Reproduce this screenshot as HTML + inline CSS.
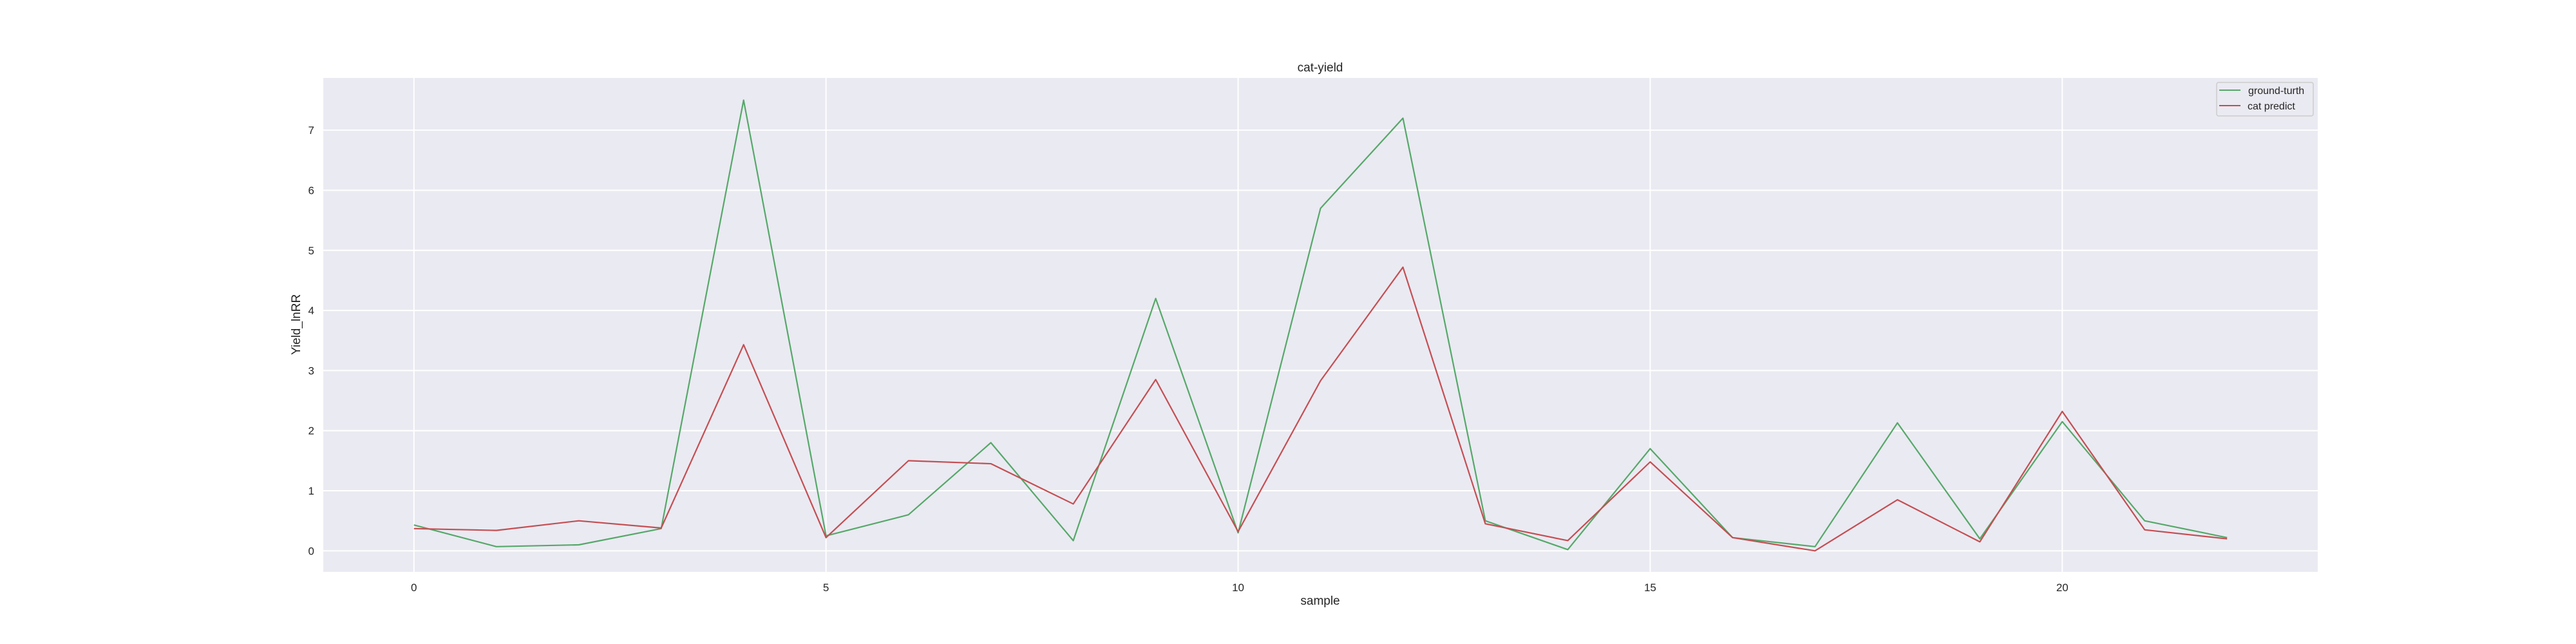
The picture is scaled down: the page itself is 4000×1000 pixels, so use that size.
<!DOCTYPE html>
<html><head><meta charset="utf-8"><style>
body{margin:0;background:#fff;}
svg{display:block;font-family:"Liberation Sans","DejaVu Sans",sans-serif;}
</style></head><body>
<svg id="chart" width="4000" height="1000" viewBox="0 0 4000 1000" xmlns="http://www.w3.org/2000/svg">
<rect x="0" y="0" width="4000" height="1000" fill="#fff"/>
<rect x="502" y="121" width="3097" height="767" fill="#eaeaf2"/>
<g id="grid"></g>
<g id="series"></g>
<g id="ticks"></g>
<text x="2050" y="111" text-anchor="middle" font-size="19" fill="#262626">cat-yield</text>
<text x="2050" y="939" text-anchor="middle" font-size="19" fill="#262626">sample</text>
<text transform="translate(466,504) rotate(-90)" text-anchor="middle" font-size="19" fill="#262626">Yield_lnRR</text>
<g>
<rect x="3442" y="128" width="150" height="52" rx="3" fill="#eaeaf2" stroke="#cccccc" stroke-width="1.5"/>
<line x1="3446" y1="140" x2="3479" y2="140" stroke="#55a868" stroke-width="2"/>
<text x="3491" y="146" font-size="16" fill="#262626">ground-turth</text>
<line x1="3446" y1="164" x2="3479" y2="164" stroke="#c44e52" stroke-width="2"/>
<text x="3490" y="170" font-size="16" fill="#262626">cat predict</text>
</g>
</svg>
<script>
const samples = [0,1,2,3,4,5,6,7,8,9,10,11,12,13,14,15,16,17,18,19,20,21,22];
const groundTruth = [0.43,0.07,0.1,0.37,7.5,0.25,0.6,1.8,0.17,4.2,0.3,5.7,7.2,0.5,0.02,1.7,0.22,0.07,2.13,0.2,2.15,0.5,0.22];
const catPredict = [0.37,0.34,0.5,0.38,3.43,0.22,1.5,1.45,0.78,2.85,0.32,2.83,4.72,0.45,0.17,1.48,0.22,0.0,0.85,0.15,2.32,0.35,0.2];
const xTicks = [0,5,10,15,20];
const yTicks = [0,1,2,3,4,5,6,7];

const NS = "http://www.w3.org/2000/svg";
const PL = 502, PR = 3599, PT = 121, PB = 888;
const xMin = -1.1, xMax = 23.1, yMin = -0.35, yMax = 7.87;
function sx(v){ return PL + (v - xMin) / (xMax - xMin) * (PR - PL); }
function sy(v){ return PB - (v - yMin) / (yMax - yMin) * (PB - PT); }
function mk(tag, attrs, parent){
  const e = document.createElementNS(NS, tag);
  for (const k in attrs) e.setAttribute(k, attrs[k]);
  parent.appendChild(e);
  return e;
}
const grid = document.getElementById('grid');
const ticks = document.getElementById('ticks');
const series = document.getElementById('series');
xTicks.forEach(t => {
  const l = mk('line', {x1: sx(t), x2: sx(t), y1: PT, y2: PB, stroke: '#fff', 'stroke-width': 2}, grid);
  
  
  const tx = mk('text', {x: sx(t), y: PB + 30, 'text-anchor': 'middle', 'font-size': 17, fill: '#262626'}, ticks);
  tx.textContent = t;
  
  
});
yTicks.forEach(t => {
  const l = mk('line', {x1: PL, x2: PR, y1: sy(t), y2: sy(t), stroke: '#fff', 'stroke-width': 2}, grid);
  
  
  const tx = mk('text', {x: PL - 14, y: sy(t) + 6, 'text-anchor': 'end', 'font-size': 17, fill: '#262626'}, ticks);
  tx.textContent = t;
  
  
});
function drawLine(vals, color, name){
  const pts = vals.map((v, i) => sx(samples[i]) + ',' + sy(v)).join(' ');
  const p = mk('polyline', {points: pts, fill: 'none', stroke: color, 'stroke-width': 2.2, 'stroke-linejoin': 'round'}, series);
  
  
}
drawLine(groundTruth, '#55a868', 'ground-truth-line');
drawLine(catPredict, '#c44e52', 'cat-predict-line');
</script>
</body></html>
